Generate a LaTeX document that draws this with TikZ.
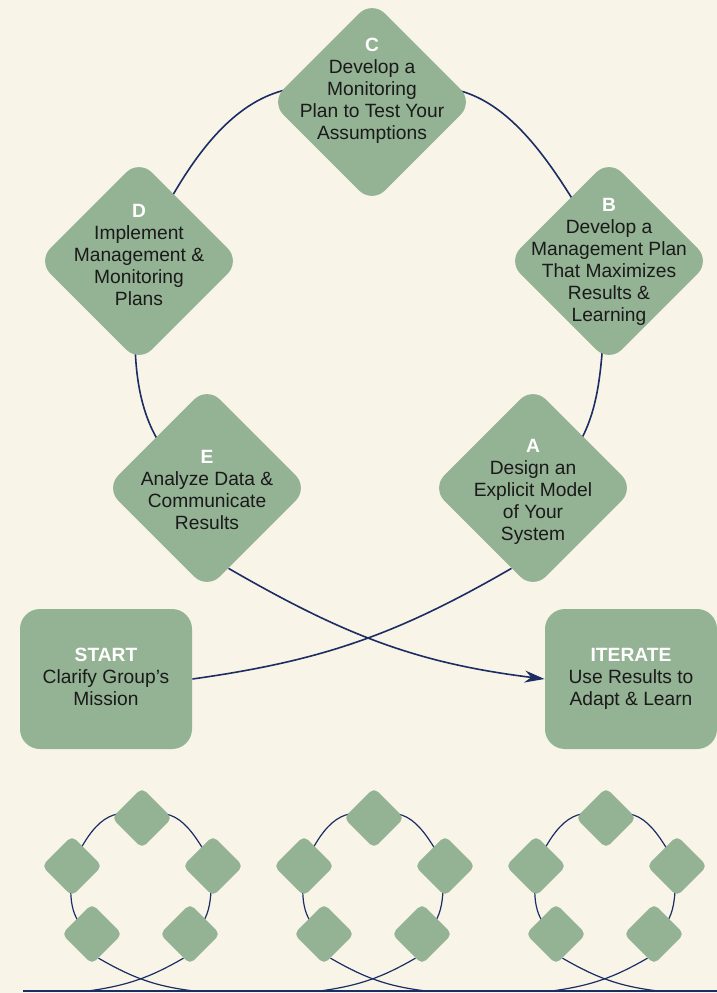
\documentclass[tikz,border=0pt]{standalone}
\usepackage{fontspec}
\setmainfont{Liberation Sans}
\usetikzlibrary{shapes.geometric,arrows.meta}
\definecolor{paper}{HTML}{F8F4E8}
\definecolor{sage}{HTML}{94B294}
\definecolor{ink}{HTML}{1B2D63}
\definecolor{txt}{HTML}{1A1A1A}
\pgfdeclarelayer{back}
\pgfsetlayers{back,main}
\newcommand{\stagetxt}[3][-4.4pt]{\smash{\raisebox{#1}{\begin{tabular}{@{}c@{}}\textcolor{white}{\bfseries #2}\\#3\end{tabular}}}}
\tikzset{
  >={Stealth[length=10pt,width=6pt]},
  stage/.style={diamond,aspect=1,fill=sage,rounded corners=9pt,inner sep=0pt,
    minimum width=101.5pt,minimum height=101.5pt,text=txt,
    font=\fontsize{9.6}{11}\selectfont},
  ministage/.style={diamond,aspect=1,fill=sage,rounded corners=2.7pt,inner sep=0pt,
    minimum width=30.2pt,minimum height=30.2pt},
  endbox/.style={rectangle,fill=sage,rounded corners=10pt,minimum width=86pt,
    minimum height=70pt,text=txt,font=\fontsize{9.6}{11}\selectfont},
  loopline/.style={draw=ink,line width=0.8pt},
  miniline/.style={draw=ink,line width=0.6pt},
}

\begin{document}
\begin{tikzpicture}[x=0.5pt,y=0.5pt]
  \begin{pgfonlayer}{back}
    \fill[paper] (0,0) rectangle (717,-993);
  \end{pgfonlayer}
  \useasboundingbox (0,0) rectangle (717,-993);

  % the five stages of the loop
  \node[stage] (C) at (372,-102) {\stagetxt[2.8pt]{C}{Develop a\\Monitoring\\Plan to Test Your\\Assumptions}};
  \node[stage] (D) at (139,-261) {\stagetxt[-0.6pt]{D}{Implement\\Management \&\\Monitoring\\Plans}};
  \node[stage] (B) at (609,-261) {\stagetxt[-2.9pt]{B}{Develop a\\Management Plan\\That Maximizes\\Results \&\\Learning}};
  \node[stage] (E) at (207,-488) {\stagetxt{E}{Analyze Data \&\\Communicate\\Results}};
  \node[stage] (A) at (533,-488) {\stagetxt{A}{Design an\\Explicit Model\\of Your\\System}};
  \node[endbox] (start) at (106,-679) {\stagetxt[-2.4pt]{START}{Clarify Group’s\\Mission}};
  \node[endbox] (iter) at (631,-679) {\stagetxt[-2.4pt]{ITERATE}{Use Results to\\Adapt \& Learn}};

  % small repeats along the foot
  \foreach \i/\cx in {1/142,2/374,3/606}{
    \node[ministage] (m\i-c) at (\cx,-818) {};
    \node[ministage] (m\i-d) at (\cx-70,-866) {};
    \node[ministage] (m\i-b) at (\cx+71,-866) {};
    \node[ministage] (m\i-e) at (\cx-50,-934) {};
    \node[ministage] (m\i-a) at (\cx+48,-934) {};
    \coordinate (m\i-in) at (\cx-54,-991);
    \coordinate (m\i-out) at (\cx+52,-991);
  }
  \coordinate (foot-l) at (23,-991);
  \coordinate (foot-r) at (717,-991);

  \begin{pgfonlayer}{back}
    \draw[loopline] (E.center) to[out=150,in=-95] (D.center)
      to[out=65,in=155,looseness=1.15] (C.center)
      to[out=25,in=120,looseness=1.15] (B.center)
      to[out=-97,in=30] (A.center);
    \draw[loopline] (start.east) to[out=8,in=-150] (A.255);
    \draw[loopline,->] (E.285) to[out=-30,in=173] (iter.west);
    \foreach \i in {1,2,3}{
      \draw[miniline] (m\i-e.center) to[out=150,in=-95] (m\i-d.center)
        to[out=65,in=155,looseness=1.15] (m\i-c.center)
        to[out=25,in=120,looseness=1.15] (m\i-b.center)
        to[out=-97,in=30] (m\i-a.center);
      \draw[miniline] (m\i-in) to[out=8,in=-150] (m\i-a.255);
      \draw[miniline] (m\i-e.285) to[out=-30,in=173] (m\i-out);
    }
    \draw[miniline] (foot-l) -- (foot-r);
  \end{pgfonlayer}
\end{tikzpicture}
\end{document}
